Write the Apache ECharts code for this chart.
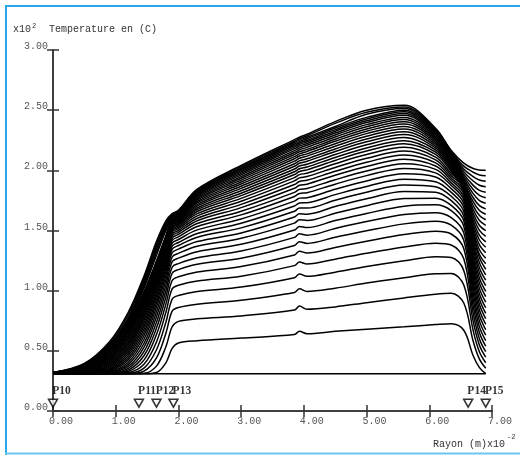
<!DOCTYPE html>
<html>
<head>
<meta charset="utf-8">
<script src="https://cdn.jsdelivr.net/npm/echarts@6/dist/echarts.min.js"></script>
<style>
html,body{margin:0;padding:0;background:#fff;}
#main{width:520px;height:455px;}
</style>
</head>
<body>
<div id="main"></div>
<script>
// radius (x10^-2 m) where every profile is sampled
var radius = [0, 0.5, 0.9, 1.2, 1.45, 1.65, 1.8, 1.9, 2.0, 2.3, 3.0, 3.85, 3.93, 4.05, 4.5, 5.0, 5.6, 6.1, 6.35, 6.55, 6.7, 6.8, 6.9];
// initial temperature (x10^2 C), flat over the whole radius
var initialTemp = 0.31;
// temperature profiles (x10^2 C), one row per time step
var profiles = [
 [0.31,0.31,0.31,0.31,0.31,0.32,0.40,0.52, 0.565,0.584,0.606, 0.635,0.662,0.642,0.662,0.68,0.70,0.718,0.725, 0.671,0.459,0.36,0.31],
 [0.31,0.31,0.31,0.31,0.314,0.373,0.534,0.70, 0.745,0.766,0.79, 0.839,0.872,0.845,0.865,0.90,0.94,0.97,0.978, 0.897,0.58,0.431,0.356],
 [0.31,0.31,0.31,0.31,0.331,0.442,0.646,0.83, 0.86,0.888,0.92, 0.985,1.015,0.994,1.021,1.063,1.107,1.141,1.143, 1.047,0.668,0.49,0.401],
 [0.31,0.31,0.31,0.313,0.356,0.509,0.738,0.93, 0.96,0.993,1.03, 1.108,1.138,1.119,1.154,1.20,1.248,1.282,1.276, 1.168,0.745,0.547,0.447],
 [0.31,0.31,0.31,0.319,0.388,0.574,0.82,1.015, 1.045,1.08,1.12, 1.208,1.238,1.222,1.262,1.311,1.363,1.395,1.38, 1.265,0.812,0.599,0.493],
 [0.31,0.31,0.311,0.329,0.423,0.635,0.888,1.085, 1.115,1.155,1.2, 1.297,1.327,1.313,1.359,1.41,1.466,1.494,1.471, 1.35,0.874,0.65,0.538],
 [0.31,0.31,0.313,0.34,0.459,0.689,0.948,1.145, 1.175,1.22,1.27, 1.376,1.406,1.393,1.444,1.498,1.555,1.577,1.544, 1.419,0.93,0.699,0.584],
 [0.31,0.31,0.314,0.354,0.493,0.738,0.999,1.195, 1.225,1.274,1.33, 1.443,1.473,1.461,1.517,1.574,1.632,1.648,1.607, 1.48,0.982,0.747,0.63],
 [0.31,0.31,0.317,0.37,0.529,0.784,1.046,1.24, 1.27,1.324,1.385, 1.504,1.534,1.524,1.583,1.642,1.702,1.713,1.665, 1.536,1.031,0.794,0.675],
 [0.31,0.31,0.322,0.388,0.561,0.825,1.088,1.28, 1.31,1.369,1.435, 1.561,1.59,1.583,1.644,1.706,1.766,1.769,1.709, 1.581,1.077,0.84,0.721],
 [0.31,0.311,0.327,0.405,0.594,0.864,1.125,1.315, 1.345,1.408,1.48, 1.612,1.64,1.636,1.70,1.764,1.824,1.818,1.748, 1.62,1.12,0.885,0.767],
 [0.31,0.311,0.333,0.423,0.625,0.897,1.158,1.345, 1.375,1.444,1.522, 1.66,1.687,1.686,1.752,1.818,1.878,1.864,1.784, 1.658,1.162,0.929,0.812],
 [0.31,0.312,0.34,0.441,0.652,0.928,1.187,1.37, 1.40,1.475,1.56, 1.703,1.729,1.731,1.798,1.866,1.926,1.905,1.817, 1.692,1.203,0.973,0.858],
 [0.31,0.313,0.347,0.46,0.679,0.958,1.213,1.395, 1.425,1.505,1.596, 1.744,1.769,1.773,1.843,1.912,1.972,1.945,1.848, 1.725,1.244,1.017,0.904],
 [0.31,0.314,0.354,0.478,0.705,0.984,1.238,1.417, 1.447,1.533,1.63, 1.783,1.808,1.814,1.885,1.956,2.016,1.979,1.874, 1.754,1.283,1.061,0.95],
 [0.31,0.317,0.364,0.497,0.73,1.01,1.26,1.437, 1.467,1.558,1.66, 1.817,1.842,1.849,1.922,1.994,2.054,2.008,1.896, 1.779,1.319,1.103,0.995],
 [0.31,0.318,0.373,0.515,0.754,1.032,1.281,1.455, 1.485,1.581,1.69, 1.851,1.876,1.885,1.959,2.032,2.092,2.036,1.918, 1.804,1.357,1.146,1.041],
 [0.31,0.32,0.382,0.532,0.775,1.054,1.298,1.47, 1.50,1.602,1.717, 1.882,1.907,1.917,1.992,2.067,2.127,2.062,1.937, 1.826,1.393,1.189,1.087],
 [0.311,0.323,0.391,0.549,0.795,1.074,1.315,1.485, 1.515,1.622,1.743, 1.912,1.937,1.948,2.024,2.10,2.16,2.087,1.956, 1.849,1.429,1.231,1.132],
 [0.311,0.325,0.401,0.564,0.815,1.092,1.332,1.498, 1.528,1.64,1.767, 1.939,1.964,1.976,2.054,2.131,2.191,2.11,1.973, 1.87,1.464,1.273,1.178],
 [0.311,0.328,0.411,0.58,0.833,1.108,1.346,1.51, 1.54,1.658,1.79, 1.965,1.99,2.004,2.082,2.16,2.22,2.132,1.99, 1.837,1.469,1.301,1.224],
 [0.311,0.332,0.42,0.597,0.851,1.124,1.359,1.521, 1.551,1.673,1.81, 1.988,2.013,2.027,2.107,2.186,2.246,2.151,2.004, 1.839,1.496,1.34,1.269],
 [0.312,0.336,0.431,0.613,0.868,1.139,1.371,1.531, 1.561,1.687,1.83, 2.011,2.036,2.051,2.131,2.212,2.272,2.169,2.018, 1.842,1.525,1.38,1.315],
 [0.312,0.34,0.44,0.628,0.886,1.154,1.383,1.541, 1.571,1.702,1.85, 2.034,2.059,2.075,2.156,2.237,2.297,2.186,2.032, 1.847,1.554,1.421,1.361],
 [0.314,0.343,0.45,0.641,0.901,1.168,1.394,1.55, 1.58,1.715,1.868, 2.055,2.079,2.096,2.178,2.26,2.32,2.202,2.045, 1.853,1.584,1.46,1.406],
 [0.314,0.347,0.46,0.656,0.915,1.181,1.404,1.559, 1.589,1.729,1.886, 2.076,2.10,2.118,2.20,2.283,2.343,2.217,2.057, 1.86,1.614,1.501,1.452],
 [0.315,0.351,0.47,0.669,0.93,1.194,1.415,1.567, 1.597,1.741,1.903, 2.096,2.119,2.137,2.221,2.305,2.365,2.232,2.069, 1.869,1.644,1.542,1.498],
 [0.316,0.354,0.48,0.682,0.943,1.206,1.424,1.575, 1.605,1.753,1.919, 2.114,2.137,2.157,2.241,2.325,2.385,2.246,2.08, 1.879,1.675,1.583,1.543],
 [0.316,0.358,0.489,0.695,0.956,1.217,1.433,1.582, 1.612,1.763,1.934, 2.132,2.154,2.174,2.259,2.344,2.404,2.259,2.091, 1.89,1.707,1.624,1.589],
 [0.317,0.362,0.499,0.708,0.969,1.227,1.442,1.589, 1.619,1.774,1.948, 2.148,2.17,2.191,2.277,2.362,2.422,2.271,2.101, 1.903,1.74,1.666,1.635],
 [0.318,0.366,0.508,0.719,0.981,1.237,1.449,1.596, 1.626,1.784,1.962, 2.164,2.186,2.208,2.294,2.38,2.44,2.283,2.111, 1.917,1.772,1.707,1.68],
 [0.318,0.37,0.519,0.732,0.992,1.248,1.459,1.602, 1.632,1.793,1.975, 2.18,2.201,2.223,2.31,2.397,2.457,2.294,2.12, 1.933,1.806,1.749,1.726],
 [0.319,0.374,0.528,0.744,1.02,1.295,1.50,1.608, 1.638,1.802,1.987, 2.193,2.215,2.237,2.325,2.412,2.472,2.304,2.128, 1.95,1.841,1.792,1.772],
 [0.319,0.377,0.537,0.755,1.04,1.32,1.52,1.614, 1.644,1.81,1.998, 2.206,2.227,2.25,2.338,2.426,2.486,2.314,2.136, 1.969,1.875,1.833,1.817],
 [0.32,0.38,0.546,0.766,1.06,1.345,1.535,1.62, 1.65,1.819,2.009, 2.219,2.239,2.263,2.352,2.44,2.50,2.324,2.144, 1.989,1.911,1.876,1.863],
 [0.32,0.385,0.555,0.777,1.08,1.37,1.55,1.626, 1.656,1.827,2.019, 2.231,2.251,2.275,2.364,2.466,2.513,2.332,2.15, 2.011,1.948,1.92,1.909],
 [0.32,0.39,0.564,0.80,1.10,1.39,1.565,1.632, 1.662,1.834,2.029, 2.242,2.262,2.287,2.39,2.482,2.526,2.341,2.157, 2.035,1.984,1.962,1.954],
 [0.32,0.395,0.575,0.82,1.12,1.41,1.58,1.64, 1.668,1.843,2.04, 2.255,2.275,2.30,2.405,2.50,2.54,2.35,2.165, 2.06,2.015,2.003,2.0]
];
// probe points along the radius
var probeNames = ['P10', 'P11', 'P12', 'P13', 'P14', 'P15'];
var probeRadius = [0, 1.37, 1.65, 1.92, 6.62, 6.9];
var probeLevel = 0.065;

var chart = echarts.init(document.getElementById('main'));

var series = [];
series.push({
    type: 'line',
    data: [[0, initialTemp], [6.9, initialTemp]],
    showSymbol: false,
    lineStyle: {color: '#000', width: 1.5}
});
profiles.forEach(function (row) {
    series.push({
        type: 'line',
        data: radius.map(function (r, i) { return [r, row[i]]; }),
        smooth: 0.35,
        showSymbol: false,
        lineStyle: {color: '#000', width: 1.5}
    });
});
// probes: open down-pointing triangles with bold labels
series.push({
    type: 'scatter',
    data: probeRadius.map(function (r, i) { return {name: probeNames[i], value: [r, probeLevel]}; }),
    symbol: 'triangle',
    symbolRotate: 180,
    symbolSize: [9, 8],
    itemStyle: {color: '#fff', borderColor: '#000', borderWidth: 1.5},
    label: {
        show: true,
        formatter: '{b}',
        position: [4.5, -1],
        align: 'left',
        verticalAlign: 'bottom',
        color: '#000',
        fontFamily: 'Liberation Serif',
        fontWeight: 'bold',
        fontSize: 11.5
    },
    z: 5
});

var axisLineStyle = {color: '#333', width: 1.5};
var monoLabel = {color: '#555', fontFamily: 'Liberation Mono', fontSize: 10};

chart.setOption({
    backgroundColor: '#fff',
    animation: false,
    grid: {left: 53, top: 50, right: 28, bottom: 44},
    xAxis: [{
        type: 'value', min: 0, max: 7, interval: 1,
        axisLine: {lineStyle: axisLineStyle},
        axisTick: {inside: true, length: 6, lineStyle: axisLineStyle},
        splitLine: {show: false},
        axisLabel: Object.assign({
            margin: 5,
            padding: [0, 0, 0, 16],
            formatter: function (v) { return v.toFixed(2); }
        }, monoLabel)
    }, {
        type: 'value', min: 0, max: 7, interval: 1, position: 'top',
        axisLine: {lineStyle: axisLineStyle},
        axisTick: {inside: true, length: 6, lineStyle: axisLineStyle},
        splitLine: {show: false},
        axisLabel: {show: false}
    }],
    yAxis: [{
        type: 'value', min: 0, max: 3, interval: 0.5,
        axisLine: {lineStyle: axisLineStyle},
        axisTick: {inside: true, length: 6, lineStyle: axisLineStyle},
        splitLine: {show: false},
        axisLabel: Object.assign({
            margin: 5,
            verticalAlign: 'bottom',
            lineHeight: 7,
            formatter: function (v) { return v.toFixed(2); }
        }, monoLabel)
    }, {
        type: 'value', min: 0, max: 3, interval: 0.5, position: 'right',
        axisLine: {lineStyle: axisLineStyle},
        axisTick: {inside: true, length: 6, lineStyle: axisLineStyle},
        splitLine: {show: false},
        axisLabel: {show: false}
    }],
    series: series,
    graphic: [
        // frame
        {type: 'line', shape: {x1: 6, y1: 5, x2: 6, y2: 455}, style: {stroke: '#2aa6e6', lineWidth: 2}},
        {type: 'line', shape: {x1: 5, y1: 6, x2: 520, y2: 6}, style: {stroke: '#2aa6e6', lineWidth: 2}},
        {type: 'line', shape: {x1: 5, y1: 453.5, x2: 520, y2: 453.5}, style: {stroke: '#6cc7f0', lineWidth: 2}},
        // axis titles
        {type: 'text', x: 13, y: 29, style: {text: 'x10', fill: '#333', font: '10px "Liberation Mono"', verticalAlign: 'middle'}},
        {type: 'text', x: 32, y: 26, style: {text: '2', fill: '#333', font: '7px "Liberation Mono"', verticalAlign: 'middle'}},
        {type: 'text', x: 49, y: 29, style: {text: 'Temperature en (C)', fill: '#333', font: '10px "Liberation Mono"', verticalAlign: 'middle'}},
        {type: 'text', x: 433, y: 444, style: {text: 'Rayon (m)x10', fill: '#333', font: '10px "Liberation Mono"', verticalAlign: 'middle'}},
        {type: 'text', x: 507, y: 437.5, style: {text: '-2', fill: '#333', font: '7px "Liberation Mono"', verticalAlign: 'middle'}}
    ]
});
</script>
</body>
</html>
